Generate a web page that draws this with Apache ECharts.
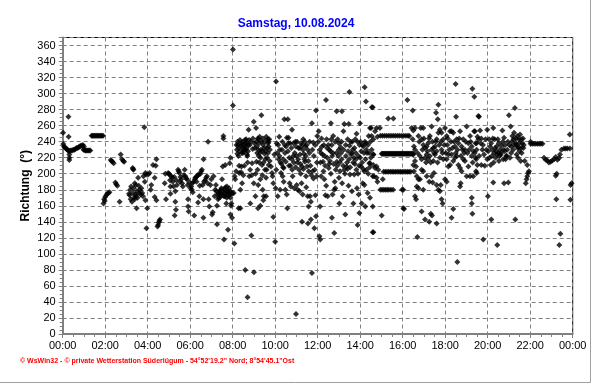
<!DOCTYPE html>
<html><head><meta charset="utf-8">
<script src="https://cdn.jsdelivr.net/npm/echarts@6/dist/echarts.min.js"></script>
<style>html,body{margin:0;padding:0;background:#fff}#c{width:592px;height:384px}</style>
</head><body><div id="c"></div>
<script>
const titleText = "Samstag, 10.08.2024";
const yName = "Richtung  (°)";
const footer = "© WsWin32 - © private Wetterstation Süderlügum - 54°52'19.2\" Nord; 8°54'45.1\"Ost";
const xTicks = [0,2,4,6,8,10,12,14,16,18,20,22,24];
const yTicks = [0,20,40,60,80,100,120,140,160,180,200,220,240,260,280,300,320,340,360];

// [hour, direction°]
const seg00 = [[0.02,251],[0.27,271],[0.28,246],[0.03,237],[0.06,234],[0.1,233],[0.14,232],[0.18,231],[0.22,230],[0.26,229],[0.3,228],[0.31,224],[0.31,220],[0.31,217],[0.35,229],[0.4,229],[0.45,229],[0.5,230],[0.55,230],[0.6,231],[0.65,232],[0.7,232],[0.75,233],[0.8,234],[0.85,235],[0.9,235],[0.95,236],[1.0,234],[0.98,230],[1.02,230],[1.06,229],[1.1,229],[1.15,229],[1.2,229],[1.25,229],[1.3,229],
[1.36,247.5],[1.4,247.5],[1.45,247.5],[1.5,247.5],[1.55,247.5],[1.6,247.5],[1.65,247.5],[1.7,247.5],[1.75,247.5],[1.8,247.5],[1.85,247.5],[1.9,247.5],
[1.92,163],[1.95,168],[1.98,166],[2.0,171],[2.05,173],[2.1,175],[2.15,176],[2.2,177],[2.26,217],[2.3,216],[2.34,215],[2.4,213],[2.48,189],[2.52,187],[2.57,185],[2.68,165],[2.73,224],[2.79,218],[2.85,216],[2.89,215],
[3.12,175],[3.15,173],[3.2,168],[3.26,165],[3.29,207],[3.31,206],[3.33,205],[3.36,170],[3.39,168],[3.39,188],[3.42,174],[3.45,172],[3.48,157],[3.5,178],[3.55,195],[3.58,185],[3.62,180],[3.67,174],[3.7,182],[3.74,176],[3.78,172],[3.8,197],[3.84,258],[3.86,190],[3.89,201],[3.89,167],[3.92,199],[3.94,132],[3.98,157],
[3.18,180],[3.22,184],[3.3,176],[3.35,182],[3.44,186],[3.52,170],[3.6,176]];

const seg04 = [[4.02,199],[4.09,201],[4.14,180],[4.17,186],[4.25,211],[4.33,195],[4.33,171],[4.38,210],[4.41,218],[4.41,167],[4.46,134],[4.49,136],[4.52,139],[4.55,141],[4.58,143],[4.8,188],[4.83,200],[4.86,168],[4.96,201],[5.0,200],[5.02,199],[5.07,184],[5.07,175],[5.11,197],[5.15,195],[5.22,184],[5.3,178],[5.3,165],[5.33,155],[5.27,148],[5.38,186],[5.43,205],[5.46,203],[5.49,201],[5.54,196],[5.58,193],[5.62,188],[5.65,184],[5.74,205],[5.77,197],[5.81,194],[5.85,193],[5.9,168],[5.9,159],[5.93,153],[5.96,189],
[6.01,182],[6.05,184],[6.08,180],[6.12,177],[6.16,190],[6.19,148],[6.22,193],[6.24,195],[6.28,196],[6.32,197],[6.36,198],[6.4,199],[6.43,172],[6.37,164],[6.48,200],[6.52,203],[6.55,205],[6.59,186],[6.62,168],[6.62,145],[6.63,218],[6.7,192],[6.75,195],[6.79,197],[6.84,240],[6.87,168],[6.9,159],[6.95,186],[6.99,193],
[5.05,192],[5.18,190],[5.25,196],[5.35,192],[5.52,190],[5.7,198],[5.88,186],[6.1,188],[6.3,190],[6.45,185],[6.65,190],[6.82,188],
[7.03,149],[7.06,152],[7.1,197],[7.15,172],[7.18,180],[7.21,186],[7.26,160],[7.26,137],[7.31,168],[7.34,176],[7.37,174],[7.4,178],[7.44,180],[7.47,182],[7.5,193],[7.53,209],[7.56,247],[7.56,244],[7.59,172],[7.59,118],[7.62,176],[7.65,211],[7.68,178],[7.7,163],[7.73,184],[7.78,130],[7.81,177],[7.84,174],[7.86,213],[7.89,220],[7.89,170],[7.89,149],[7.94,163],[7.97,145],[7.92,160],[7.95,176],[7.35,170],[7.45,175],[7.55,178],[7.64,172],[7.75,175],[7.8,172],
[7.23,178],[7.29,174],[7.42,171],[7.52,173],[7.6,181],[7.66,183],[7.72,170],[7.77,179],[7.83,182],[7.9,178],[7.98,175]];

const seg08 = [[8.01,355],[8.01,285],[8.05,176],[8.08,113],[8.09,197],[8.12,193],[8.16,203],[8.2,230],[8.25,236],[8.28,157],[8.31,201],[8.36,180],[8.36,157],[8.41,209],[8.44,188],[8.52,230],[8.56,234],[8.59,80],[8.63,243],[8.67,224],[8.7,46],[8.75,255],[8.78,197],[8.83,163],[8.88,123],[8.91,213],[8.94,231],[8.99,188],[9.0,77],[8.99,265],[9.07,172],[9.1,257],[9.14,234],[9.19,157],[9.22,243],[9.22,222],[9.25,214],[9.3,193],[9.35,273],[9.38,211],[9.41,180],[9.46,172],[9.54,218],[9.57,195],[9.61,232],[9.66,238],[9.69,211],[9.72,243],
[8.22,225],[8.27,222],[8.33,228],[8.38,235],[8.45,232],[8.48,226],[8.6,238],[8.65,232],[8.72,228],[8.8,236],[8.85,240],[8.95,244],[9.02,238],[9.05,232],[9.12,215],[9.17,205],[9.28,226],[9.33,230],[9.43,236],[9.5,225],[9.52,205],[8.3,210],[8.4,202],[8.5,198],[8.55,210],[8.7,214],[8.82,205],[8.9,198],[9.08,200],[9.2,186],[9.4,198],[9.6,205],[9.3,160],[9.44,167],
[8.18,236],[8.23,240],[8.29,232],[8.34,242],[8.4,238],[8.43,226],[8.47,240],[8.5,236],[8.54,228],[8.58,242],[8.62,230],[8.66,238],[8.69,222],[8.73,236],[8.77,242],
[9.11,240],[9.15,226],[9.18,244],[9.21,230],[9.24,238],[9.27,246],[9.31,220],[9.36,240],[9.39,228],[9.42,244],[9.45,214],[9.48,232],[9.52,240],[9.55,228],[9.58,246],[9.62,220],[9.66,226],[9.7,240],[9.74,216],
[9.57,172],[9.65,243],[9.69,234],[9.75,230],[9.8,209],[9.85,201],[9.88,197],[9.91,188],[9.91,146],[9.96,224],[10.0,115],[10.04,315],[10.07,238],[10.12,172],[10.16,218],[10.19,246],[10.23,180],[10.27,201],[10.32,230],[10.35,197],[10.38,218],[10.43,268],[10.48,180],[10.51,234],[10.54,174],[10.55,245],[10.57,157],[10.59,268],[10.63,245],[10.7,238],[10.74,184],[10.79,255],[10.82,197],[10.85,222],[10.9,182],[10.95,240],[10.98,234],[10.98,25],
[11.01,186],[11.06,180],[11.1,232],[11.14,178],[11.17,224],[11.21,238],[11.26,209],[11.26,140],[11.29,174],[11.32,243],[11.37,218],[11.42,234],[11.45,197],[11.53,230],[11.53,172],[11.54,138],[11.57,159],[11.61,226],[11.64,172],[11.68,165],[11.68,143],[11.73,263],[11.73,76],[11.76,203],[11.79,239],[11.84,132],[11.89,173],[11.92,279],[11.92,147],[11.95,197],[11.98,247],
[10.1,226],[10.2,222],[10.3,212],[10.4,207],[10.45,236],[10.6,228],[10.66,220],[10.72,210],[10.8,205],[10.88,214],[11.0,222],[11.05,214],[11.12,205],[11.2,200],[11.3,230],[11.35,225],[11.4,215],[11.5,209],[11.58,203],[11.7,198],[11.8,194],[11.86,205],[10.02,182],[10.4,190],[10.68,188],[11.24,188],[11.46,183],
[10.05,205],[10.14,236],[10.22,230],[10.25,214],[10.34,240],[10.37,208],[10.46,226],[10.5,215],[10.62,238],[10.65,210],[10.76,232],[10.78,218],[10.86,238],[10.92,226],[10.96,208],[11.03,240],[11.08,218],[11.16,232],[11.19,212],[11.28,236],[11.33,206],[11.39,240],[11.44,222],[11.48,236],[11.56,216],[11.62,240],[11.66,210],[11.75,230],[11.82,222],[11.88,236],[11.96,214]];

const seg12 = [[12.05,253],[12.08,122],[12.11,159],[12.12,118],[12.16,197],[12.2,234],[12.23,224],[12.27,203],[12.31,193],[12.36,173],[12.39,292],[12.42,243],[12.47,172],[12.52,207],[12.55,230],[12.58,216],[12.62,263],[12.64,243],[12.67,145],[12.7,174],[12.73,247],[12.78,126],[12.78,180],[12.83,182],[12.89,278],[12.94,243],[12.99,230],[13.02,163],[13.05,203],[13.1,226],[13.14,278],[13.18,172],[13.21,253],[13.25,262],[13.3,149],[13.33,222],[13.36,209],[13.41,243],[13.46,262],[13.49,302],[13.52,199],[13.57,224],[13.61,178],[13.65,230],[13.68,163],[13.72,199],[13.77,243],[13.8,218],[13.83,250],[13.88,136],[13.93,174],[13.96,151],[13.99,263],
[14.04,209],[14.07,163],[14.12,188],[14.15,234],[14.19,203],[14.21,308],[14.24,159],[14.27,290],[14.27,238],[14.32,226],[14.35,176],[14.4,247],[14.43,213],[14.51,257],[14.55,283],[14.59,127],[14.59,197],[14.62,224],
[12.1,230],[12.15,226],[12.25,215],[12.35,210],[12.45,220],[12.5,236],[12.6,228],[12.68,222],[12.75,212],[12.85,205],[12.9,215],[12.97,222],[13.0,238],[13.08,233],[13.13,218],[13.2,210],[13.25,205],[13.28,200],[13.38,214],[13.43,228],[13.5,235],[13.55,240],[13.6,226],[13.7,220],[13.75,212],[13.82,205],[13.9,200],[13.95,210],[14.0,220],[14.05,228],[14.1,236],[14.18,226],[14.25,218],[14.3,205],[14.38,200],[14.45,208],[14.5,220],[12.4,185],[12.8,190],[13.15,188],[13.45,185],[13.85,182],[14.2,186],[12.62,200],[13.0,195],
[12.03,240],[12.13,214],[12.18,244],[12.29,236],[12.33,222],[12.44,232],[12.54,212],[12.66,236],[12.72,226],[12.82,240],[12.88,226],[12.92,210],[13.04,214],[13.12,240],[13.22,230],[13.32,236],[13.4,206],[13.48,218],[13.53,208],[13.63,240],[13.67,214],[13.73,232],[13.79,226],[13.87,240],[13.92,222],[13.97,236],[14.02,240],[14.09,214],[14.14,206],[14.22,240],[14.29,230],[14.36,236],[14.42,226],[14.48,240],
[14.46,257],[14.54,247],[14.62,243],[14.7,253],[14.77,257],[14.81,246],[14.93,257],[14.54,230],[14.62,224],[14.46,213],[14.62,211],[14.7,207],[14.77,209],[14.85,205],[14.65,197],[14.77,195],[14.81,190],[15.06,193],[14.46,170],[14.59,159],[15.01,148],[14.62,127],[14.59,283],[15.32,269],[15.56,269],
[14.95,247.5],[15.05,247.5],[15.15,247.5],[15.25,247.5],[15.35,247.5],[15.45,247.5],[15.55,247.5],[15.65,247.5],[15.75,247.5],[15.85,247.5],[15.95,247.5],[16.05,247.5],[16.15,247.5],[16.25,247.5],
[15.01,225],[15.05,225],[15.09,225],[15.13,225],[15.17,225],[15.21,225],[15.25,225],[15.29,225],[15.33,225],[15.37,225],[15.41,225],[15.45,225],[15.49,225],[15.53,225],[15.57,225],[15.61,225],[15.65,225],[15.69,225],[15.73,225],[15.77,225],[15.81,225],[15.85,225],[15.89,225],[15.93,225],[15.97,225],
[15.1,202.5],[15.18,202.5],[15.26,202.5],[15.34,202.5],[15.42,202.5],[15.5,202.5],[15.58,202.5],[15.66,202.5],[15.74,202.5],[15.82,202.5],[15.9,202.5],[15.98,202.5],
[14.95,180],[15.03,180],[15.11,180],[15.19,180],[15.27,180],[15.35,180],[15.45,180],[15.55,180],[15.97,180]];

const seg16 = [[16.01,225],[16.05,225],[16.09,225],[16.13,225],[16.17,225],[16.21,225],[16.25,225],[16.29,225],[16.33,225],[16.37,225],[16.41,225],[16.45,225],[16.49,225],
[16.06,202.5],[16.14,202.5],[16.22,202.5],[16.3,202.5],[16.38,202.5],[16.03,180],[16.03,157],[16.06,156],[16.22,292],[16.47,279],[16.69,121],
[16.31,247],[16.42,257],[16.5,254],[16.58,257],[16.47,243],[16.53,234],[16.58,230],[16.5,224],[16.58,216],[16.63,209],[16.5,211],[16.53,203],[16.66,197],[16.74,193],[16.66,184],[16.74,182],[16.81,193],[16.89,205],
[16.58,172],[16.63,168],[16.89,153],[17.05,143],[17.25,140],[17.32,150],[17.38,148],[17.6,138],[16.97,180],
[16.74,247],[16.85,257],[16.97,257],[16.89,243],[16.97,236],[17.05,232],[17.13,234],[17.2,238],[17.28,247],[17.36,259],[17.44,232],[17.52,234],[17.6,243],[17.68,251],[17.75,255],[17.83,251],[17.91,243],[17.99,257],[18.07,247],[18.1,236],[18.23,253],[18.3,253],[18.38,251],[18.46,234],[18.54,243],[18.62,238],[18.7,253],[18.77,234],[18.85,243],[18.93,230],[19.01,259],[19.09,238],[19.17,247],[19.25,234],[19.32,228],[19.4,253],[19.48,238],[19.56,243],
[16.81,222],[16.89,218],[17.05,220],[17.13,224],[17.2,218],[17.28,222],[17.36,230],[17.44,216],[17.52,224],[17.6,228],[17.75,220],[17.83,230],[17.91,218],[18.07,218],[18.15,224],[18.23,211],[18.3,224],[18.38,216],[18.46,220],[18.54,222],[18.62,211],[18.7,207],[18.77,203],[18.85,218],[18.93,216],[19.01,197],[19.09,209],[19.17,197],[19.25,222],[19.32,197],[19.45,203],
[16.97,203],[17.13,197],[17.25,190],[17.36,197],[17.41,189],[17.47,201],[17.6,186],[17.68,180],[17.75,178],[17.79,186],[17.83,168],[17.88,163],[17.99,193],[18.07,190],[18.15,209],[18.3,145],[18.38,156],[18.57,90],[18.7,184],[18.73,188],[19.25,170],[19.25,163],[19.28,150],
[17.68,286],[17.57,276],[17.65,268],[18.49,312],[19.28,306],[19.37,296],[18.51,271],[19.56,272],
[16.7,226],[16.78,240],[16.93,230],[17.0,244],[17.1,214],[17.17,228],[17.24,244],[17.32,214],[17.4,240],[17.48,226],[17.56,240],[17.64,214],[17.72,236],[17.8,240],[17.87,226],[17.95,236],[18.03,226],[18.12,244],[18.19,230],[18.27,240],[18.34,232],[18.42,240],[18.5,226],[18.58,230],[18.66,244],[18.74,222],[18.81,230],[18.89,226],[18.97,240],[19.05,226],[19.13,230],[19.2,240],[19.29,214],[19.39,226],[19.46,218],[19.52,246]];

const seg20 = [[19.36,253],[19.43,238],[19.48,230],[19.43,220],[19.51,211],[19.48,201],[19.59,271],[19.64,254],[19.67,238],[19.7,211],[19.75,230],[19.79,118],[19.83,224],[19.9,243],[19.98,255],[19.98,218],
[19.6,222],[19.7,244],[19.78,236],[19.86,210],[19.94,230],
[20.01,172],[20.06,243],[20.11,234],[20.14,211],[20.17,143],[20.22,230],[20.26,257],[20.26,189],[20.3,226],[20.33,243],[20.37,220],[20.42,234],[20.45,111],[20.48,243],[20.53,216],[20.58,230],[20.61,224],[20.69,254],[20.73,218],[20.77,245],[20.77,188],[20.84,218],[20.92,230],[20.97,189],
[20.03,228],[20.08,220],[20.16,238],[20.24,244],[20.28,214],[20.35,232],[20.44,224],[20.52,238],[20.56,222],[20.63,226],[20.71,240],[20.75,230],[20.82,236],[20.87,222],[20.95,240],
[21.0,273],[21.05,220],[21.08,259],[21.11,234],[21.16,247],[21.21,243],[21.24,251],[21.28,282],[21.3,143],[21.32,238],[21.36,224],[21.39,247],[21.42,220],[21.47,243],[21.52,249],[21.55,216],[21.58,243],[21.63,238],[21.68,232],[21.74,216],[21.79,188],[21.83,193],[21.86,197],[21.9,201],[21.94,203],[21.86,211],
[21.02,236],[21.1,226],[21.14,240],[21.26,236],[21.33,244],[21.41,232],[21.49,238],[21.57,232],[21.6,226],[21.66,244],[21.7,236],
[20.2,222],[20.4,228],[20.5,226],[20.65,235],[20.8,228],[20.9,222],[21.2,230],[21.35,236],[21.45,233],[21.5,228],
[22.02,240],[22.02,237.5],[22.1,237.5],[22.18,237.5],[22.26,237.5],[22.34,237.5],[22.42,237.5],[22.5,237.5],[22.58,237.5],[22.65,220],[22.73,217.5],[22.81,216.5],[22.88,214],[22.96,215],[23.04,216.5],[23.12,218],[23.2,221],[23.28,217.5],[23.36,219.5],[23.4,224],
[23.25,200],[23.2,197.5],[23.47,230],[23.59,231.5],[23.67,231.5],[23.75,231.5],[23.87,231.5],[23.23,168],[23.42,125],[23.37,111],[23.86,249],[23.9,186],[23.95,188],[23.89,167.5]];

const pad = n => (n < 10 ? "0" : "") + n;
const chart = echarts.init(document.getElementById("c"), null, {renderer: "canvas"});
const FONT = "Liberation Sans";
chart.setOption({
  animation: false,
  backgroundColor: "#ffffff",
  title: {text: titleText, left: "center", top: 13,
    textStyle: {color: "#0000ff", fontSize: 12, fontWeight: "bold", fontFamily: FONT}},
  grid: {left: 62.7, right: 19.3, top: 37.5, bottom: 50, show: true, borderColor: "#000", borderWidth: 1},
  xAxis: {type: "value", min: xTicks[0], max: xTicks[xTicks.length - 1], interval: 2,
    axisLine: {lineStyle: {color: "#808080", width: 2}},
    axisTick: {show: true, length: 4, lineStyle: {color: "#808080"}},
    minorTick: {show: true, splitNumber: 4, length: 3, lineStyle: {color: "#808080"}},
    axisLabel: {color: "#000", fontSize: 11, fontFamily: FONT, margin: 6,
      formatter: v => pad(v % 24) + ":00"},
    splitLine: {show: true, lineStyle: {color: "#808080", type: [4, 3], width: 1}}},
  yAxis: {type: "value", min: 0, max: 370, interval: 20,
    name: yName, nameLocation: "middle", nameGap: 31, nameRotate: 90, nameMoveOverlap: false,
    nameTextStyle: {color: "#000", fontSize: 12, fontWeight: "bold", fontFamily: FONT},
    axisLine: {show: true, lineStyle: {color: "#808080", width: 2}},
    axisTick: {show: true, length: 4, lineStyle: {color: "#808080"}},
    minorTick: {show: true, splitNumber: 4, length: 3, lineStyle: {color: "#808080"}},
    axisLabel: {color: "#000", fontSize: 11, fontFamily: FONT, margin: 7, showMaxLabel: false,
      formatter: v => (yTicks.indexOf(v) >= 0 ? String(v) : "")},
    splitLine: {show: true, lineStyle: {color: "#808080", type: [4, 3], width: 1}}},
  series: [{type: "scatter", symbol: "diamond", symbolSize: 6,
    itemStyle: {color: "#000"},
    data: [].concat(seg00, seg04, seg08, seg12, seg16, seg20)}],
  graphic: [
    {type: "text", left: 20, top: 358, style: {text: footer, fill: "#ff0000", font: "bold 7px " + FONT}},
    {type: "line", shape: {x1: 590.5, y1: 0, x2: 590.5, y2: 382.5}, style: {stroke: "#a0a0a0", lineWidth: 1}},
    {type: "line", shape: {x1: 0, y1: 382.5, x2: 590.5, y2: 382.5}, style: {stroke: "#a0a0a0", lineWidth: 1}}
  ]
});
</script></body></html>
